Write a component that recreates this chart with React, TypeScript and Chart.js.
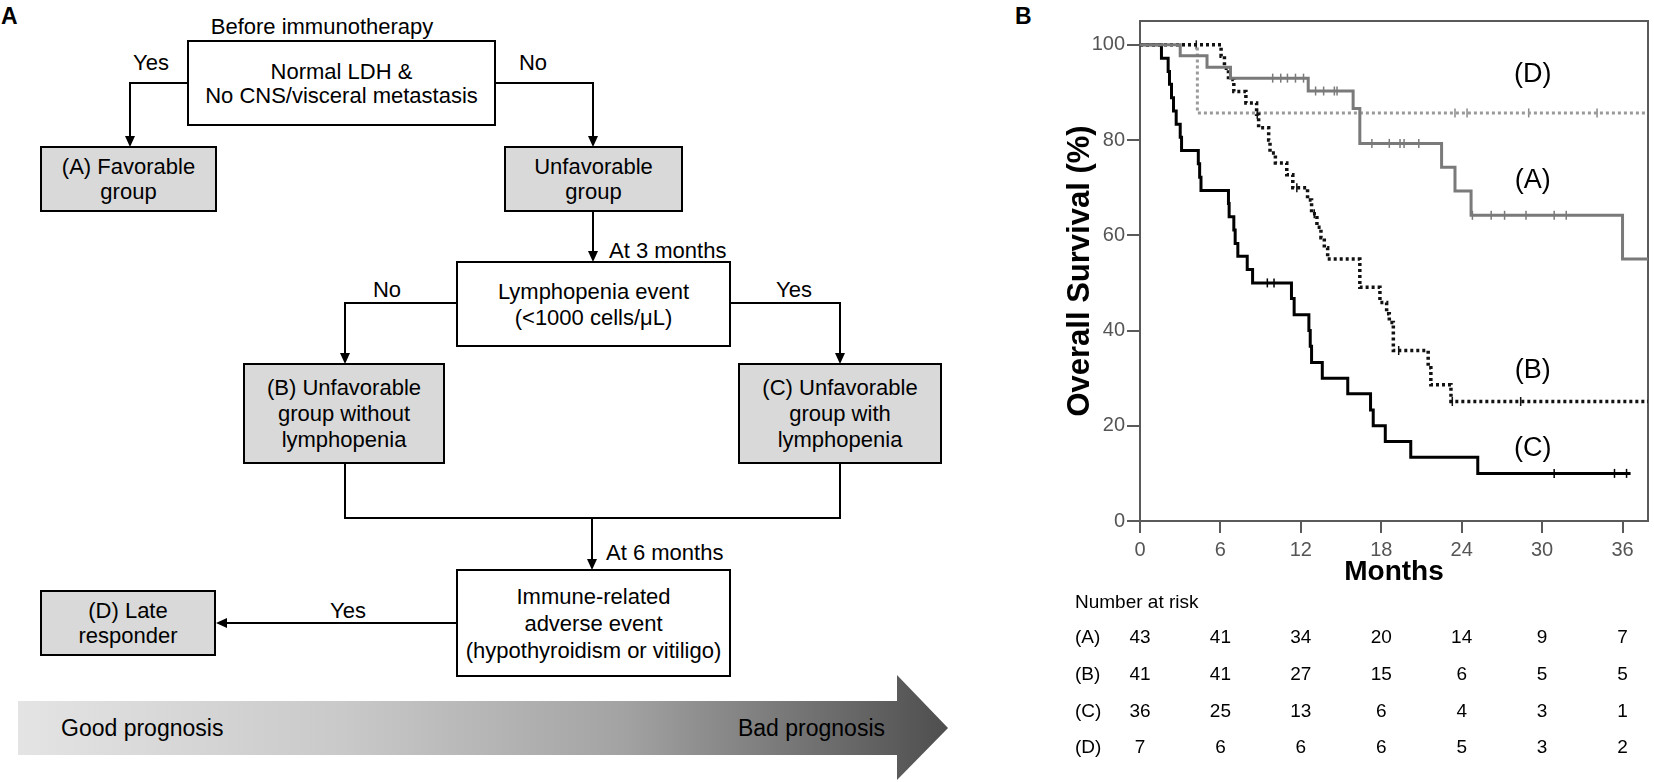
import React, { useEffect, useRef } from 'react';
import { Chart, registerables } from 'chart.js';

Chart.register(...registerables);

// ---------- data ----------
const monthTicks = [0, 6, 12, 18, 24, 30, 36];
const survivalTicks = [0, 20, 40, 60, 80, 100];
const groupNames = ['(A)', '(B)', '(C)', '(D)'];

const timeA = [0, 3.0, 5.0, 6.75, 12.55, 15.9, 16.4, 22.5, 23.5, 24.7, 36.0, 37.9];
const survA = [100, 97.7, 95.3, 93.0, 90.3, 86.6, 79.3, 74.3, 69.3, 64.2, 55.0, 55.0];
const censorA = [9.9, 10.5, 11.0, 11.6, 12.2, 13.1, 13.7, 14.5, 14.7, 17.3, 18.6, 19.4, 19.7, 20.8, 24.8, 26.2, 27.2, 28.8, 30.9, 31.8];

const timeB = [0, 6.05, 6.3, 6.6, 7.0, 7.9, 8.7, 8.85, 9.6, 9.7, 10.1, 10.95, 11.4, 12.5, 12.8, 13.2, 13.5, 13.75, 14.0, 16.4, 17.9, 18.4, 18.6, 18.9, 21.5, 21.7, 23.2, 37.9];
const survB = [100, 97.6, 95.1, 92.7, 90.2, 87.8, 85.4, 82.6, 80.0, 77.3, 75.2, 72.7, 70.0, 67.4, 64.5, 61.7, 59.5, 57.4, 55.0, 49.1, 45.9, 43.5, 41.7, 35.8, 32.2, 28.6, 25.1, 25.1];
const censorB = [4.2, 8.75, 11.7, 13.0, 19.3, 23.3, 28.4];

const timeC = [0, 1.6, 2.1, 2.2, 2.35, 2.5, 2.7, 3.0, 3.1, 4.35, 4.45, 4.55, 6.6, 6.65, 7.0, 7.1, 7.3, 8.0, 8.4, 11.3, 11.5, 12.6, 12.7, 12.8, 13.6, 15.5, 17.2, 17.4, 18.3, 20.2, 25.2, 36.6];
const survC = [100, 97.2, 94.4, 91.7, 88.9, 86.1, 83.3, 80.6, 77.8, 75.0, 72.2, 69.4, 66.7, 63.9, 61.1, 58.3, 55.6, 52.8, 50.0, 46.7, 43.3, 40.0, 36.7, 33.3, 30.0, 26.7, 23.3, 20.0, 16.7, 13.4, 10.0, 10.0];
const censorC = [9.5, 10.0, 30.9, 35.4, 36.3];

const timeD = [0, 4.28, 37.9];
const survD = [100, 85.7, 85.7];
const censorD = [23.5, 24.4, 29.0, 34.1];

const riskA = [43, 41, 34, 20, 14, 9, 7];
const riskB = [41, 41, 27, 15, 6, 5, 5];
const riskC = [36, 25, 13, 6, 4, 3, 1];
const riskD = [7, 6, 6, 6, 5, 3, 2];

// label anchors (month, survival) for group names inside the plot
const labelMonth = [29.3, 29.3, 29.3, 29.3];
const labelSurv = [71.6, 31.7, 15.3, 93.7];

// ---------- helpers ----------
const FONT = "'Liberation Sans', Arial, Helvetica, sans-serif";

const toPoints = (t: number[], s: number[]) => t.map((x, i) => ({ x, y: s[i] }));
const survAt = (t: number[], s: number[], at: number) => {
  let v = s[0];
  for (let i = 0; i < t.length; i++) if (t[i] <= at) v = s[i];
  return v;
};
const censorPoints = (t: number[], s: number[], c: number[]) => c.map((x) => ({ x, y: survAt(t, s, x) }));

const curves = [
  { t: timeA, s: survA, c: censorA, color: '#7a7a7a', width: 3, dash: [] as number[] },
  { t: timeB, s: survB, c: censorB, color: '#111111', width: 3.5, dash: [3, 3] },
  { t: timeC, s: survC, c: censorC, color: '#000000', width: 3, dash: [] as number[] },
  { t: timeD, s: survD, c: censorD, color: '#9a9a9a', width: 3, dash: [3, 3] },
];
const riskRows = [riskA, riskB, riskC, riskD];

// ---------- flowchart ----------
function Arrow({ x, y, dir }: { x: number; y: number; dir: 'down' | 'left' }) {
  const pts = dir === 'down'
    ? `${x - 5},${y - 11} ${x + 5},${y - 11} ${x},${y}`
    : `${x + 11},${y - 5} ${x + 11},${y + 5} ${x},${y}`;
  return <polygon points={pts} fill="#000" />;
}

function Box({ x, y, w, h, fill, lines, pitch = 25.5 }: { x: number; y: number; w: number; h: number; fill: string; lines: string[]; pitch?: number }) {
  const cy = y + h / 2;
  const start = cy - ((lines.length - 1) * pitch) / 2;
  return (
    <g>
      <rect x={x} y={y} width={w} height={h} fill={fill} stroke="#000" strokeWidth={2} />
      {lines.map((l, i) => (
        <text key={i} x={x + w / 2} y={start + i * pitch} textAnchor="middle" dominantBaseline="central" fontSize={22} fontFamily={FONT} fill="#000">{l}</text>
      ))}
    </g>
  );
}

function Label({ x, y, s, anchor = 'middle', size = 22, bold = false }: { x: number; y: number; s: string; anchor?: string; size?: number; bold?: boolean }) {
  return <text x={x} y={y} textAnchor={anchor as any} dominantBaseline="central" fontSize={size} fontWeight={bold ? 'bold' : 'normal'} fontFamily={FONT} fill="#000">{s}</text>;
}

function FlowChart() {
  const line = { stroke: '#000', strokeWidth: 2, fill: 'none' };
  const grey = '#d9d9d9';
  return (
    <svg width={1040} height={782} style={{ position: 'absolute', left: 0, top: 0 }}>
      <defs>
        <linearGradient id="prog" x1="18" y1="0" x2="948" y2="0" gradientUnits="userSpaceOnUse">
          <stop offset="0" stopColor="#e4e4e4" />
          <stop offset="0.35" stopColor="#c9c9c9" />
          <stop offset="0.65" stopColor="#a3a3a3" />
          <stop offset="1" stopColor="#4e4e4e" />
        </linearGradient>
      </defs>
      <Label x={1} y={16} s="A" anchor="start" size={23} bold />
      <Label x={1015} y={16} s="B" anchor="start" size={23} bold />

      <Label x={322} y={26} s="Before immunotherapy" />
      <Box x={188} y={41} w={307} h={84} fill="#fff" lines={['Normal LDH &', 'No CNS/visceral metastasis']} pitch={24} />
      <Label x={151} y={62} s="Yes" />
      <Label x={533} y={62} s="No" />
      <polyline points="188,83 130,83 130,145" {...line} />
      <Arrow x={130} y={147} dir="down" />
      <polyline points="495,83 593,83 593,145" {...line} />
      <Arrow x={593} y={147} dir="down" />

      <Box x={41} y={147} w={175} h={64} fill={grey} lines={['(A) Favorable', 'group']} />
      <Box x={505} y={147} w={177} h={64} fill={grey} lines={['Unfavorable', 'group']} />

      <polyline points="593,211 593,260" {...line} />
      <Arrow x={593} y={262} dir="down" />
      <Label x={609} y={250} s="At 3 months" anchor="start" />

      <Box x={457} y={262} w={273} h={84} fill="#fff" lines={['Lymphopenia event', '(<1000 cells/μL)']} pitch={26} />
      <Label x={387} y={289} s="No" />
      <Label x={794} y={289} s="Yes" />
      <polyline points="457,303 345,303 345,362" {...line} />
      <Arrow x={345} y={364} dir="down" />
      <polyline points="730,303 840,303 840,362" {...line} />
      <Arrow x={840} y={364} dir="down" />

      <Box x={244} y={364} w={200} h={99} fill={grey} lines={['(B) Unfavorable', 'group without', 'lymphopenia']} pitch={26} />
      <Box x={739} y={364} w={202} h={99} fill={grey} lines={['(C) Unfavorable', 'group with', 'lymphopenia']} pitch={26} />

      <polyline points="345,463 345,518 840,518 840,463" {...line} />
      <polyline points="592,518 592,568" {...line} />
      <Arrow x={592} y={570} dir="down" />
      <Label x={606} y={552} s="At 6 months" anchor="start" />

      <Box x={457} y={570} w={273} h={106} fill="#fff" lines={['Immune-related', 'adverse event', '(hypothyroidism or vitiligo)']} pitch={27} />
      <Box x={41} y={591} w={174} h={64} fill={grey} lines={['(D) Late', 'responder']} />
      <polyline points="457,623 218,623" {...line} />
      <Arrow x={216} y={623} dir="left" />
      <Label x={348} y={610} s="Yes" />

      <polygon points="18,701 897,701 897,675 948,728 897,780 897,755 18,755" fill="url(#prog)" />
      <Label x={61} y={728} s="Good prognosis" anchor="start" size={23} />
      <Label x={885} y={728} s="Bad prognosis" anchor="end" size={23} />
    </svg>
  );
}

// ---------- KM chart ----------
const kmPlugin = {
  id: 'kmExtras',
  beforeDatasetsDraw(chart: any) {
    const { ctx, chartArea: a } = chart;
    ctx.save();
    ctx.strokeStyle = '#5a5a5a';
    ctx.lineWidth = 2;
    ctx.strokeRect(a.left, a.top, a.right - a.left, a.bottom - a.top);
    ctx.restore();
  },
  afterDraw(chart: any) {
    const { ctx, chartArea: a, scales } = chart;
    const xs = scales.x;
    const ys = scales.y;
    ctx.save();
    ctx.fillStyle = '#000';
    ctx.textBaseline = 'middle';
    ctx.textAlign = 'center';
    ctx.font = `27px ${FONT}`;
    groupNames.forEach((g, i) => {
      ctx.fillText(g, xs.getPixelForValue(labelMonth[i]), ys.getPixelForValue(labelSurv[i]));
    });
    // number at risk table
    ctx.font = `19px ${FONT}`;
    ctx.textAlign = 'left';
    const left = 35;
    ctx.fillText('Number at risk', left, a.bottom + 82);
    riskRows.forEach((row, r) => {
      const y = a.bottom + 117 + r * 36.7;
      ctx.textAlign = 'left';
      ctx.fillText(groupNames[r], left, y);
      ctx.textAlign = 'center';
      row.forEach((n, j) => ctx.fillText(String(n), xs.getPixelForValue(monthTicks[j]), y));
    });
    ctx.restore();
  },
};

export default function App() {
  const ref = useRef<HTMLCanvasElement>(null);
  useEffect(() => {
    if (!ref.current) return;
    const datasets: any[] = [];
    curves.forEach((c, i) => {
      datasets.push({
        label: groupNames[i],
        data: toPoints(c.t, c.s),
        borderColor: c.color,
        borderWidth: c.width,
        borderDash: c.dash,
        stepped: 'before',
        pointRadius: 0,
        fill: false,
      });
    });
    curves.forEach((c, i) => {
      datasets.push({
        label: groupNames[i] + ' censored',
        data: censorPoints(c.t, c.s, c.c),
        showLine: false,
        pointStyle: 'line',
        pointRotation: 90,
        pointRadius: 4.5,
        pointBorderWidth: 1.5,
        pointBorderColor: c.color === '#9a9a9a' ? '#8a8a8a' : c.color,
        borderColor: c.color,
      });
    });
    const tickFont = { family: FONT, size: 20 };
    const chart = new Chart(ref.current, {
      type: 'line',
      data: { datasets },
      options: {
        animation: false,
        responsive: false,
        events: [],
        layout: { padding: { top: 21, right: 3, left: 0, bottom: 182 } },
        plugins: { legend: { display: false }, tooltip: { enabled: false } },
        scales: {
          x: {
            type: 'linear',
            min: 0,
            max: 37.9,
            afterBuildTicks: (s: any) => { s.ticks = monthTicks.map((v) => ({ value: v })); },
            afterFit: (s: any) => { s.height = 79; },
            grid: { drawOnChartArea: false, drawTicks: true, tickLength: 12, color: '#5a5a5a', lineWidth: 2 },
            border: { display: false },
            ticks: { color: '#555', font: tickFont, padding: 5, maxRotation: 0, autoSkip: false },
            title: { display: true, text: 'Months', color: '#000', font: { family: FONT, size: 28, weight: 'bold' }, padding: { top: 0, bottom: 11 } },
          },
          y: {
            type: 'linear',
            min: 0,
            max: 105,
            afterBuildTicks: (s: any) => { s.ticks = survivalTicks.map((v) => ({ value: v })); },
            afterFit: (s: any) => { s.width = 100; },
            grid: { drawOnChartArea: false, drawTicks: true, tickLength: 13, color: '#5a5a5a', lineWidth: 2 },
            border: { display: false },
            ticks: { color: '#555', font: tickFont, padding: 2 },
            title: { display: true, text: 'Overall Survival (%)', color: '#000', font: { family: FONT, size: 31, weight: 'bold' }, padding: { top: 22, bottom: 0 } },
          },
        },
      } as any,
      plugins: [kmPlugin],
    });
    return () => chart.destroy();
  }, []);

  return (
    <div style={{ position: 'absolute', left: 0, top: 0, width: 1654, height: 782, background: '#fff', overflow: 'hidden' }}>
      <FlowChart />
      <canvas ref={ref} width={614} height={782} style={{ position: 'absolute', left: 1040, top: 0, width: 614, height: 782, display: 'block' }} />
    </div>
  );
}
